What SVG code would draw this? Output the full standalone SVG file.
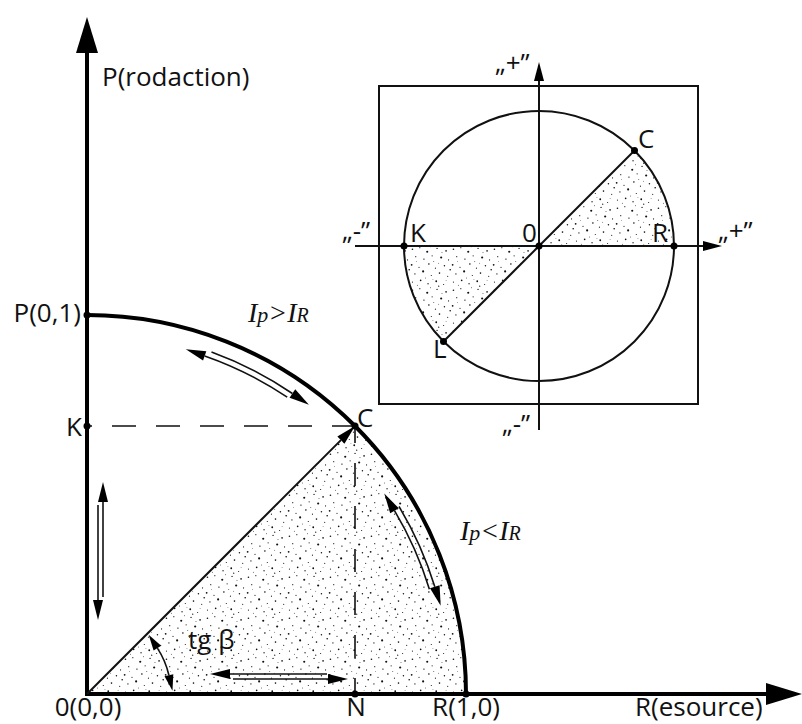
<svg xmlns="http://www.w3.org/2000/svg" width="802" height="724" viewBox="0 0 802 724">
<style>
.lbl{font-family:"Open Sans","Noto Sans","Liberation Sans",sans-serif;font-size:26px;fill:#111}
.ital{font-family:"Liberation Serif","DejaVu Serif",serif;font-style:italic;fill:#111}
.axis{stroke:#000;stroke-width:4;fill:none}
.thin{stroke:#111;stroke-width:2;fill:none}
.arr{stroke:#111;stroke-width:1.6;fill:none}
.dot{fill:#000}
</style>
<defs>
<pattern id="stip" width="50" height="50" patternUnits="userSpaceOnUse" patternTransform="scale(0.82)">
<g fill="#111">
<circle cx="3" cy="4" r="1.0"/><circle cx="12" cy="2" r="0.7"/><circle cx="21" cy="7" r="1.3"/><circle cx="33" cy="3" r="0.8"/><circle cx="44" cy="6" r="1.0"/><circle cx="7" cy="13" r="0.7"/><circle cx="17" cy="16" r="0.9"/><circle cx="27" cy="12" r="0.7"/><circle cx="38" cy="14" r="1.3"/><circle cx="47" cy="17" r="0.7"/><circle cx="2" cy="23" r="1.1"/><circle cx="11" cy="26" r="0.7"/><circle cx="23" cy="22" r="1.0"/><circle cx="31" cy="27" r="0.7"/><circle cx="42" cy="24" r="0.9"/><circle cx="6" cy="34" r="0.8"/><circle cx="16" cy="31" r="1.3"/><circle cx="26" cy="36" r="0.7"/><circle cx="36" cy="33" r="1.0"/><circle cx="46" cy="37" r="0.7"/><circle cx="3" cy="44" r="0.7"/><circle cx="13" cy="42" r="1.0"/><circle cx="22" cy="46" r="0.8"/><circle cx="32" cy="43" r="1.1"/><circle cx="41" cy="47" r="0.7"/><circle cx="49" cy="29" r="1.0"/><circle cx="19" cy="39" r="0.6"/><circle cx="29" cy="19" r="0.6"/><circle cx="9" cy="48" r="0.6"/><circle cx="39" cy="8" r="0.6"/><circle cx="35" cy="49" r="0.8"/><circle cx="25" cy="1" r="0.6"/><circle cx="8" cy="19" r="0.5"/><circle cx="35" cy="21" r="0.5"/><circle cx="44" cy="42" r="0.5"/><circle cx="28" cy="41" r="0.5"/>
</g>
</pattern>
<marker id="bigHead" markerUnits="userSpaceOnUse" markerWidth="38" markerHeight="24" refX="0" refY="11" orient="auto" overflow="visible"><path d="M0,0 L36,11 L0,22 Z" fill="#000"/></marker>
<marker id="head" markerUnits="userSpaceOnUse" markerWidth="22" markerHeight="12" refX="0" refY="5" orient="auto" overflow="visible"><path d="M0,0 L20,5 L0,10 Z" fill="#000"/></marker>
<marker id="inHead" markerUnits="userSpaceOnUse" markerWidth="22" markerHeight="12" refX="0" refY="5" orient="auto" overflow="visible"><path d="M0,0 L19,5 L0,10 Z" fill="#000"/></marker>
<marker id="angHead" markerUnits="userSpaceOnUse" markerWidth="18" markerHeight="10" refX="0" refY="4.5" orient="auto-start-reverse" overflow="visible"><path d="M0,0 L16,4.5 L0,9 Z" fill="#000"/></marker>
</defs>
<rect width="802" height="724" fill="#fff"/>

<g id="shading">
<path d="M87,694 L355,426 A379,379 0 0 1 466,694 Z" fill="url(#stip)"/>
<path d="M539,246 L674,246 A135,135 0 0 0 634.5,150.5 Z" fill="url(#stip)"/>
<path d="M539,246 L404,246 A135,135 0 0 0 443.5,341.5 Z" fill="url(#stip)"/>
</g>

<g id="connectors">
<line class="axis" x1="87" y1="696" x2="87" y2="53" marker-end="url(#bigHead)"/>
<line class="axis" x1="85" y1="694" x2="766" y2="694" marker-end="url(#bigHead)"/>
<path class="axis" d="M87,315 A379,379 0 0 1 466,694" stroke-width="3.6"/>
<path d="M87,426 H355" stroke="#111" stroke-width="1.6" stroke-dasharray="24 20" stroke-dashoffset="19" fill="none"/>
<path d="M355,694 V426" stroke="#111" stroke-width="1.6" stroke-dasharray="23 20" stroke-dashoffset="7" fill="none"/>
<line class="thin" x1="87" y1="694" x2="340.9" y2="440.1" marker-end="url(#head)"/>
<path class="arr" d="M287.2,397.2 A358,358 0 0 0 204.7,355.9" marker-end="url(#head)"/>
<path class="arr" d="M211.5,352 A364,364 0 0 1 292.4,393.5" marker-end="url(#head)"/>
<path class="arr" d="M429.4,589.3 A358,358 0 0 0 394.5,510.7" marker-end="url(#head)"/>
<path class="arr" d="M399,506.5 A364,364 0 0 1 434.8,586.7" marker-end="url(#head)"/>
<line class="arr" x1="103" y1="597" x2="103" y2="502" marker-end="url(#head)"/>
<line class="arr" x1="98" y1="505" x2="98" y2="600" marker-end="url(#head)"/>
<line class="arr" x1="327" y1="674" x2="230" y2="674" marker-end="url(#head)"/>
<line class="arr" x1="233" y1="679" x2="328" y2="679" marker-end="url(#head)"/>
<path class="arr" d="M168.9,675.2 A84,84 0 0 0 157.4,648.1" marker-start="url(#angHead)" marker-end="url(#angHead)"/>
</g>

<g id="main-points">
<circle class="dot" cx="87" cy="315" r="3.5"/>
<circle class="dot" cx="87" cy="426" r="3.5"/>
<circle class="dot" cx="355" cy="426" r="3.5"/>
<circle class="dot" cx="355" cy="694" r="3.5"/>
<circle class="dot" cx="466" cy="694" r="3.5"/>
</g>

<g id="main-labels">
<text class="lbl" x="102" y="86">P(rodaction)</text>
<text class="lbl" x="81" y="322" text-anchor="end">P(0,1)</text>
<text class="lbl" x="82" y="436" text-anchor="end">K</text>
<text class="lbl" x="357" y="427">C</text>
<text class="lbl" x="88" y="716" text-anchor="middle">0(0,0)</text>
<text class="lbl" x="356" y="716" text-anchor="middle">N</text>
<text class="lbl" x="466" y="716" text-anchor="middle">R(1,0)</text>
<text class="lbl" x="635" y="716">R(esource)</text>
<text class="lbl" x="188" y="649">tg β</text>
<text class="ital" x="248" y="322" font-size="28">I<tspan font-size="22">p</tspan>&gt;I<tspan font-size="20">R</tspan></text>
<text class="ital" x="460" y="540" font-size="28">I<tspan font-size="22">p</tspan>&lt;I<tspan font-size="20">R</tspan></text>
</g>

<g id="inset">
<rect class="thin" x="379" y="86" width="319" height="318"/>
<circle class="thin" cx="539" cy="246" r="135"/>
<line class="thin" x1="539" y1="430" x2="539" y2="81" marker-end="url(#inHead)"/>
<line class="thin" x1="355" y1="246" x2="703" y2="246" marker-end="url(#inHead)"/>
<line class="thin" x1="443.5" y1="341.5" x2="634.5" y2="150.5"/>
<circle class="dot" cx="539" cy="246" r="3.5"/>
<circle class="dot" cx="404" cy="246" r="3.5"/>
<circle class="dot" cx="674" cy="246" r="3.5"/>
<circle class="dot" cx="634.5" cy="150.5" r="3.5"/>
<circle class="dot" cx="443.5" cy="341.5" r="3.5"/>
<text class="lbl" x="638" y="148">C</text>
<text class="lbl" x="410" y="242">K</text>
<text class="lbl" x="522" y="242">0</text>
<text class="lbl" x="652" y="242">R</text>
<text class="lbl" x="433" y="358">L</text>
<text class="lbl" x="495" y="72">„+”</text>
<text class="lbl" x="342" y="240">„-”</text>
<text class="lbl" x="718" y="240">„+”</text>
<text class="lbl" x="502" y="433">„-”</text>
</g>
</svg>
